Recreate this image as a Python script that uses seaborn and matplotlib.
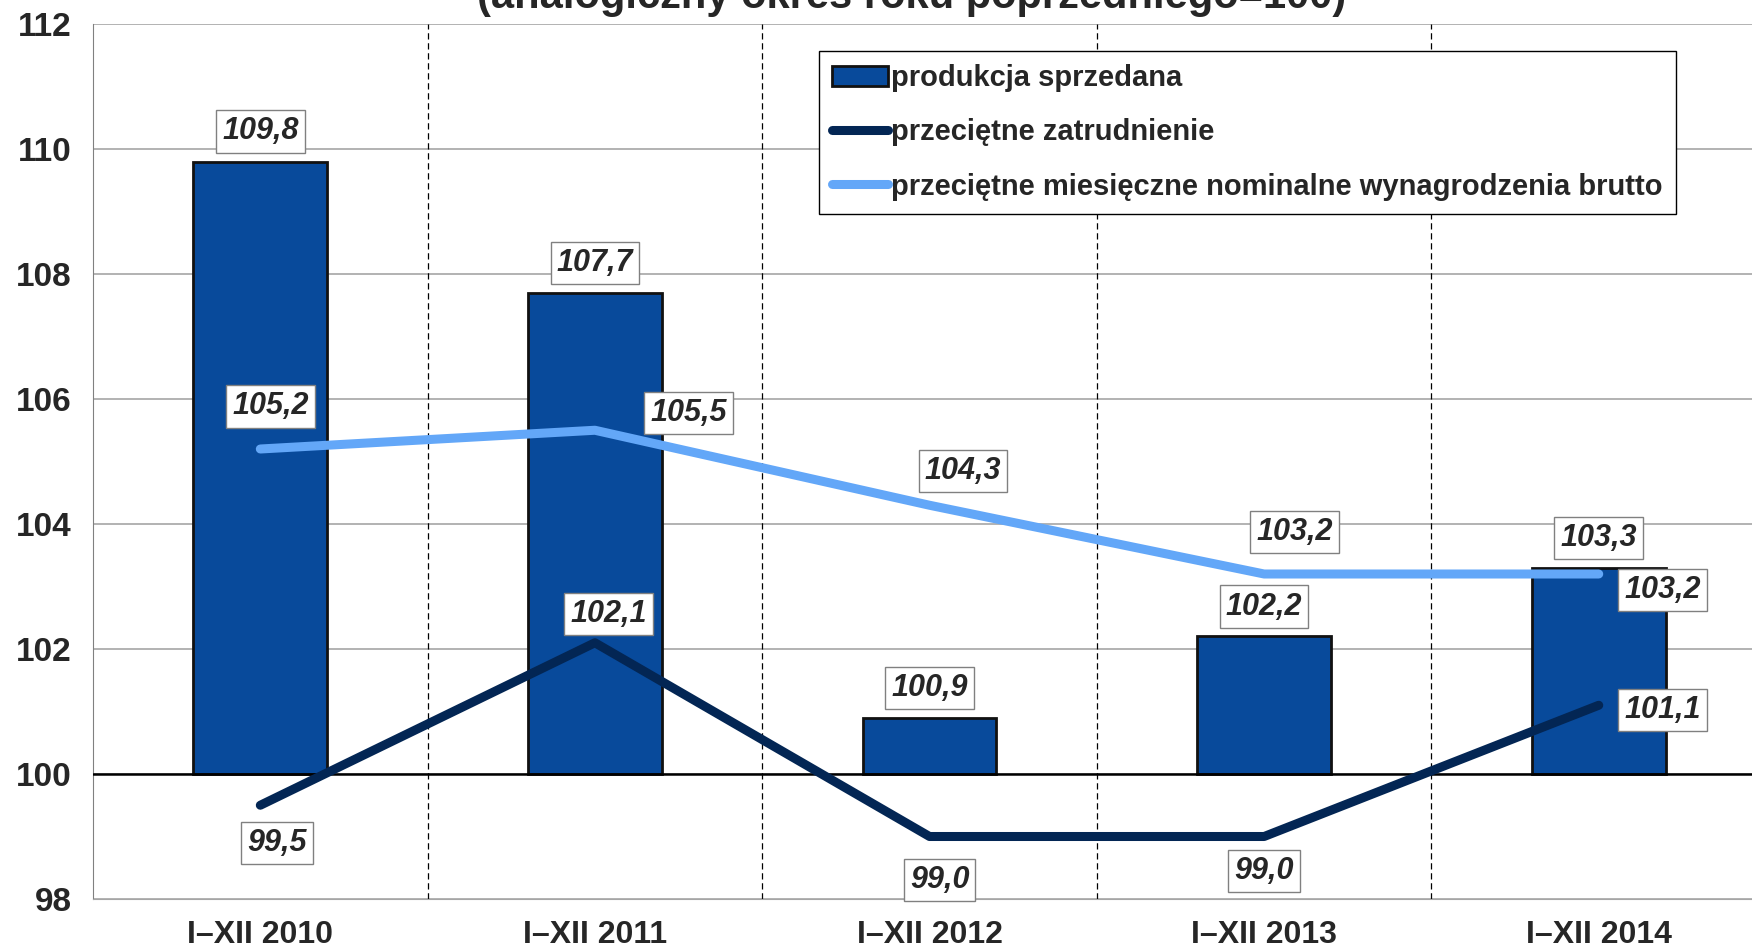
import numpy as np
import seaborn as sns
import matplotlib.pyplot as plt
from matplotlib.patches import Patch
from matplotlib.lines import Line2D

# data
categories = ["I–XII 2010", "I–XII 2011", "I–XII 2012", "I–XII 2013", "I–XII 2014"]
produkcja = [109.8, 107.7, 100.9, 102.2, 103.3]
zatrudnienie = [99.5, 102.1, 99.0, 99.0, 101.1]
wynagrodzenia = [105.2, 105.5, 104.3, 103.2, 103.2]
series_names = ["produkcja sprzedana",
                "przeciętne zatrudnienie",
                "przeciętne miesięczne nominalne wynagrodzenia brutto"]
title = "(analogiczny okres roku poprzedniego=100)"
base = 100

# label offsets (dx, dy) relative to each point
off_prod = [(0.0, 0.48)] * 5
off_wyn = [(0.03, 0.68), (0.28, 0.27), (0.10, 0.55), (0.09, 0.67), (0.19, -0.25)]
off_zat = [(0.05, -0.60), (0.04, 0.46), (0.03, -0.70), (0.0, -0.55), (0.19, -0.07)]

bar_col = "#084a9b"
dark_col = "#032654"
light_col = "#63a7f8"

sns.set_style("white")
plt.rcParams['font.family'] = ['Liberation Sans', 'DejaVu Sans']
plt.rcParams['font.weight'] = 'bold'

fig = plt.figure(figsize=(17.52, 9.49), dpi=100)
ax = fig.add_axes([93 / 1752, 50 / 949, 1 - 93 / 1752, 875 / 949])

pos = np.arange(len(categories))

sns.barplot(x=categories, y=np.array(produkcja) - base, bottom=base, color=bar_col,
            saturation=1, width=0.4, edgecolor="#111111", linewidth=2, ax=ax, zorder=3)
sns.lineplot(x=pos, y=zatrudnienie, color=dark_col, linewidth=6.5,
             solid_capstyle="round", ax=ax, zorder=4)
sns.lineplot(x=pos, y=wynagrodzenia, color=light_col, linewidth=6.5,
             solid_capstyle="round", ax=ax, zorder=4)

ax.set_xlim(-0.5, 4.458)
ax.set_ylim(98, 112)
ax.set_yticks(np.arange(98, 113, 2))
ax.set_xticks(pos)
ax.set_xticklabels(categories)
ax.set_xlabel("")
ax.set_ylabel("")

ax.yaxis.grid(True, color="#a6a6a6", lw=1.2, zorder=0)
ax.set_axisbelow(True)
ax.axhline(base, color="black", lw=1.8, zorder=3.5)
for b in pos[:-1] + 0.5:
    ax.axvline(b, color="black", lw=0.9, ls=(0, (5, 3)), zorder=1)

for s in ["top", "right"]:
    ax.spines[s].set_visible(False)
ax.spines["left"].set_color("#808080")
ax.spines["bottom"].set_color("#a6a6a6")
ax.tick_params(axis="y", length=6.5, color="#808080", labelsize=24, pad=9)
ax.tick_params(axis="x", length=0, labelsize=23, pad=15)


def fmt(v):
    return f"{v:.1f}".replace(".", ",")


box = dict(boxstyle="square,pad=0.2", fc="white", ec="#808080", lw=1)
for vals, offs in [(produkcja, off_prod), (wynagrodzenia, off_wyn), (zatrudnienie, off_zat)]:
    for i, (v, (dx, dy)) in enumerate(zip(vals, offs)):
        ax.text(i + dx, v + dy, fmt(v), ha="center", va="center", fontsize=22,
                style="italic", weight="bold", bbox=box, zorder=6)

handles = [Patch(facecolor=bar_col, edgecolor="#111111", lw=2),
           Line2D([], [], color=dark_col, lw=6.5, solid_capstyle="round"),
           Line2D([], [], color=light_col, lw=6.5, solid_capstyle="round")]
leg = fig.legend(handles, series_names, loc="upper left",
                 bbox_to_anchor=(819 / 1752, 1 - 51 / 949),
                 prop={"weight": "bold", "size": 21}, frameon=True, fancybox=False,
                 framealpha=1, edgecolor="black", borderpad=0.45, labelspacing=0.9,
                 handlelength=1.9, handletextpad=0.12, borderaxespad=0)
leg.get_frame().set_linewidth(1)

fig.text(912 / 1752, 1 - 8 / 949, title, ha="center", va="baseline",
         fontsize=30, weight="bold")

fig.savefig("out.png", dpi=100)
